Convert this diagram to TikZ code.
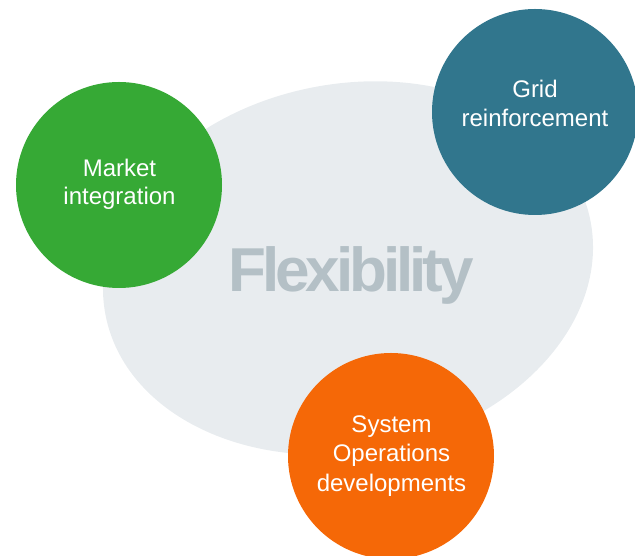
\documentclass[tikz,border=0pt]{standalone}
\usepackage{fontspec}
\setmainfont{Liberation Sans}
\newfontfamily\flexfont[LetterSpace=-6.5]{Liberation Sans}
\definecolor{ellcol}{RGB}{232,236,239}
\definecolor{greencol}{RGB}{54,169,53}
\definecolor{tealcol}{RGB}{49,118,141}
\definecolor{orangecol}{RGB}{245,104,7}
\definecolor{flexcol}{RGB}{180,192,198}
\begin{document}
\begin{tikzpicture}[x=1pt,y=1pt,
  bubble/.style={circle,draw=none,minimum size=206pt,inner sep=0pt},
  bubbletext/.style={anchor=north,align=center,text=white,inner sep=0pt,
    font=\fontsize{24}{28.8}\selectfont}]
\useasboundingbox (0,0) rectangle (635,556);
\fill[ellcol,rotate around={11:(348,288)}] (348,288) ellipse [x radius=247, y radius=184];
\node[bubble,fill=greencol] (market) at (119,371) {};
\node[bubble,fill=tealcol] (grid) at (535,444) {};
\node[bubble,fill=orangecol] (sysops) at (391,100) {};
\node[bubbletext] (markettxt) at (119.5,397.5) {Market\\integration};
\node[bubbletext] (gridtxt) at (535,476.3) {Grid\\reinforcement};
\node[bubbletext,font=\fontsize{24}{29.3}\selectfont] (sysopstxt) at (391.5,140.3) {System\\Operations\\developments};
\node[anchor=base,inner sep=0pt,text=flexcol,font=\flexfont\bfseries\fontsize{62}{70}\selectfont] (flex) at (351,264.3) {Flexibility};
\end{tikzpicture}
\end{document}
